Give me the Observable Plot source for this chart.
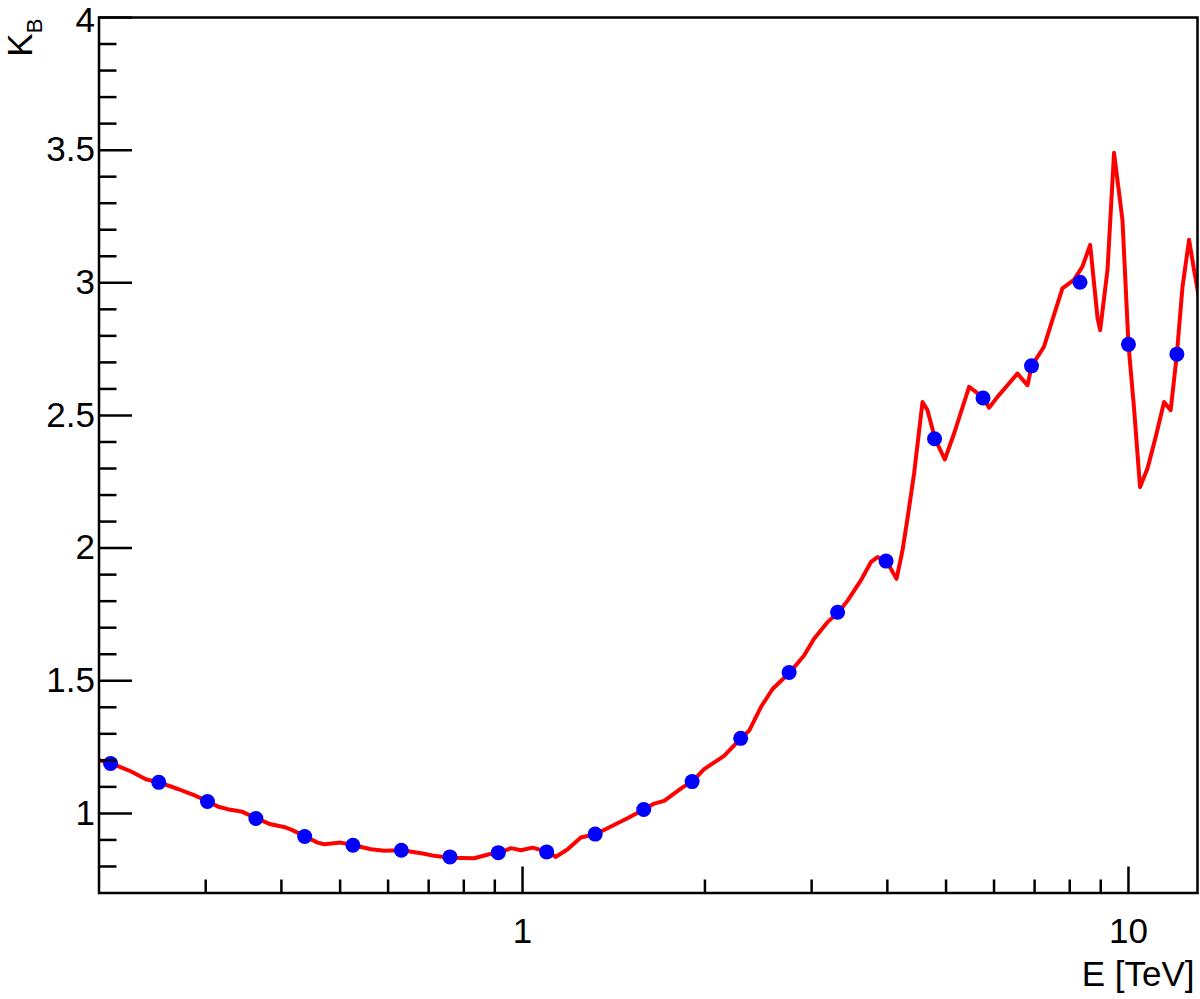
<!DOCTYPE html>
<html>
<head>
<meta charset="utf-8">
<script src="https://cdn.jsdelivr.net/npm/d3@7"></script>
<script src="https://cdn.jsdelivr.net/npm/@observablehq/plot@0.6"></script>
<style>
  html, body { margin: 0; padding: 0; background: white; }
  #chart svg { display: block; }
</style>
</head>
<body>
<div id="chart"></div>
<script>
// Red curve: energy (TeV) and K_B
const lineE = [0.200,0.210,0.226,0.239,0.252,0.270,0.287,0.303,0.314,0.326,0.345,0.364,0.384,0.404,0.417,0.438,0.459,0.471,0.501,0.527,0.562,0.591,0.633,0.688,0.715,0.760,0.832,0.881,0.915,0.957,0.994,1.039,1.100,1.135,1.187,1.248,1.320,1.381,1.490,1.586,1.649,1.713,1.837,1.906,1.994,2.151,2.293,2.366,2.473,2.586,2.761,2.915,3.028,3.186,3.323,3.439,3.617,3.757,3.853,3.987,4.142,4.237,4.318,4.428,4.572,4.659,4.796,4.976,5.155,5.458,5.598,5.764,5.888,6.079,6.314,6.558,6.812,6.924,7.254,7.490,7.780,8.130,8.395,8.646,8.893,8.981,9.235,9.467,9.775,10.00,10.21,10.45,10.75,11.09,11.45,11.74,12.02,12.28,12.59,12.83,13.08];
const lineK = [1.201,1.188,1.158,1.129,1.116,1.092,1.069,1.045,1.026,1.016,1.006,0.981,0.959,0.949,0.937,0.913,0.890,0.884,0.890,0.880,0.865,0.859,0.861,0.848,0.840,0.833,0.831,0.846,0.852,0.869,0.861,0.871,0.855,0.836,0.865,0.909,0.922,0.944,0.982,1.015,1.037,1.047,1.098,1.120,1.167,1.217,1.283,1.312,1.400,1.469,1.531,1.595,1.658,1.721,1.758,1.802,1.878,1.947,1.966,1.951,1.884,1.991,2.111,2.281,2.551,2.520,2.412,2.334,2.432,2.608,2.589,2.566,2.529,2.570,2.614,2.658,2.614,2.687,2.759,2.860,2.979,3.011,3.061,3.143,2.866,2.822,3.049,3.490,3.237,2.768,2.532,2.230,2.300,2.419,2.551,2.520,2.731,2.985,3.162,3.049,2.942];

// Blue markers
const pointE = [0.209,0.251,0.302,0.363,0.437,0.525,0.631,0.759,0.912,1.096,1.318,1.585,1.905,2.291,2.754,3.311,3.981,4.786,5.754,6.918,8.318,10.0,12.02];
const pointK = [1.188,1.117,1.045,0.981,0.913,0.880,0.861,0.836,0.852,0.855,0.922,1.015,1.120,1.283,1.531,1.758,1.951,2.412,2.566,2.687,3.002,2.768,2.731];

// Axis ticks
const xMajorTicks = [1, 10];
const xMinorTicks = [0.3,0.4,0.5,0.6,0.7,0.8,0.9,2,3,4,5,6,7,8,9];
const yMajorTicks = [1, 1.5, 2, 2.5, 3, 3.5, 4];
const yLabelTicks = [1, 1.5, 2, 2.5, 3, 3.5];
const yTopLabelTick = [4];
const yMinorTicks = [0.8,0.9,1.1,1.2,1.3,1.4,1.6,1.7,1.8,1.9,2.1,2.2,2.3,2.4,2.6,2.7,2.8,2.9,3.1,3.2,3.3,3.4,3.6,3.7,3.8,3.9];

const xTitle = "E [TeV]";
const yTitleMain = "K";
const yTitleSub = "B";

const W = 1200, H = 999;
const mL = 98.5, mR = 3, mT = 17, mB = 106.5;
const innerW = W - mL - mR, innerH = H - mT - mB;

const curve = lineE.map((e, i) => ({e, k: lineK[i]}));
const pts = pointE.map((e, i) => ({e, k: pointK[i]}));

const fontFamily = "'Liberation Sans', Arial, Helvetica, sans-serif";

const chart = Plot.plot({
  width: W,
  height: H,
  marginLeft: mL,
  marginRight: mR,
  marginTop: mT,
  marginBottom: mB,
  style: {fontFamily, fontSize: "35px", background: "white", color: "black"},
  x: {type: "log", domain: [0.2, 13]},
  y: {type: "linear", domain: [0.7, 4]},
  marks: [
    Plot.line(curve, {x: "e", y: "k", stroke: "#ff0000", strokeWidth: 4, curve: "linear", clip: true, strokeLinejoin: "round"}),
    Plot.dot(pts, {x: "e", y: "k", r: 7.5, fill: "#0000ff", stroke: "none"}),
    Plot.tickX(xMinorTicks, {x: d => d, insetTop: innerH - 13, stroke: "black", strokeWidth: 2.5}),
    Plot.tickX(xMajorTicks, {x: d => d, insetTop: innerH - 26, stroke: "black", strokeWidth: 2.5}),
    Plot.tickY(yMinorTicks, {y: d => d, insetRight: innerW - 18, stroke: "black", strokeWidth: 2.5}),
    Plot.tickY(yMajorTicks, {y: d => d, insetRight: innerW - 33.5, stroke: "black", strokeWidth: 2.5}),
    Plot.frame({stroke: "black", strokeWidth: 2.5}),
    Plot.axisX({ticks: xMajorTicks, tickSize: 0, tickPadding: 25, tickFormat: d => String(d), fontSize: 35, label: null}),
    Plot.axisY({ticks: yLabelTicks, tickSize: 0, tickPadding: 4, tickFormat: d => String(d), fontSize: 35, label: null}),
    Plot.axisY({ticks: yTopLabelTick, tickSize: 0, tickPadding: 4, tickFormat: d => String(d), fontSize: 35, label: null, dy: 3}),
    Plot.text([xTitle], {frameAnchor: "bottom-right", textAnchor: "end", lineAnchor: "bottom", dx: -3, dy: 92.5, fontSize: 35}),
    Plot.text([yTitleMain], {frameAnchor: "top-left", rotate: -90, textAnchor: "end", lineAnchor: "bottom", dx: 31 - mL, dy: 33 - mT, fontSize: 35}),
    Plot.text([yTitleSub], {frameAnchor: "top-left", rotate: -90, textAnchor: "end", lineAnchor: "bottom", dx: 41 - mL, dy: 18 - mT, fontSize: 22})
  ]
});
document.getElementById("chart").appendChild(chart);
</script>
</body>
</html>
